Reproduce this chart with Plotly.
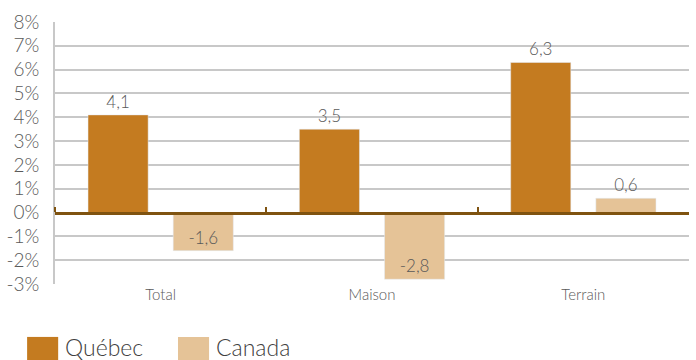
import plotly.graph_objects as go

categories = ["Total", "Maison", "Terrain"]
quebec = [4.1, 3.5, 6.3]
canada = [-1.6, -2.8, 0.6]
series_names = ["Québec", "Canada"]
colors = ["#C47B20", "#E5C397"]
ytick_vals = list(range(-3, 9))
ytick_text = [f"{v}%" for v in ytick_vals]

font = "Lato, 'Open Sans', sans-serif"
grey = "#595959"

fig = go.Figure()
fig.add_trace(go.Bar(
    x=categories, y=quebec, name=series_names[0], marker_color=colors[0],
    text=[f"{v:.1f}".replace(".", ",") for v in quebec], textposition="outside",
    textfont=dict(size=17, color=grey, family=font, weight=300), cliponaxis=False,
    showlegend=False,
))
fig.add_trace(go.Bar(
    x=categories, y=canada, name=series_names[1], marker_color=colors[1],
    text=[f"{v:.1f}".replace(".", ",") for v in canada],
    textposition=["inside" if v < 0 else "outside" for v in canada],
    insidetextanchor="end",
    textfont=dict(size=17, color=grey, family=font, weight=300), cliponaxis=False,
    showlegend=False,
))

# legend drawn as swatches + labels
lx = [-0.044, 0.194]
for i, name in enumerate(series_names):
    fig.add_shape(type="rect", xref="paper", yref="paper",
                  x0=lx[i], x1=lx[i] + 0.049, y0=-0.295, y1=-0.202,
                  fillcolor=colors[i], line_width=0, layer="above")
    fig.add_annotation(text=name, xref="paper", yref="paper", x=lx[i] + 0.056, y=-0.240,
                       xanchor="left", yanchor="middle", showarrow=False,
                       font=dict(size=23, color="#404040", family=font, weight=300))

fig.update_layout(
    width=696, height=360,
    margin=dict(l=55, r=7, t=22, b=76),
    paper_bgcolor="white", plot_bgcolor="white",
    barmode="group", bargap=0.194, bargroupgap=0.294,
    font=dict(family=font, color=grey),
    showlegend=False,
    xaxis=dict(showgrid=False, showline=False, ticks="",
               tickfont=dict(size=15, color=grey, weight=300), range=[-0.5, 2.5]),
    xaxis2=dict(overlaying="x", anchor="free", position=3 / 11, side="top",
                range=[-0.5, 2.5], tickvals=[-0.5, 0.5, 1.5], ticks="outside",
                ticklen=5, tickwidth=2, tickcolor="#7F5310", showticklabels=False,
                showline=True, linecolor="#7F5310", linewidth=2.5, showgrid=False,
                zeroline=False),
    yaxis=dict(range=[-3, 8], tickvals=ytick_vals, ticktext=ytick_text,
               tickfont=dict(size=19, color=grey, weight=300), showgrid=True,
               gridcolor="#C8C8C8", gridwidth=1.5, showline=True, linecolor="#C8C8C8",
               linewidth=1.5, zeroline=False, ticks="", ticklabelstandoff=10),
)
# invisible trace to activate xaxis2
fig.add_trace(go.Scatter(x=[-0.5, 2.5], y=[0, 0], xaxis="x2", mode="lines",
                         line=dict(width=0), hoverinfo="skip", showlegend=False))

fig.write_html("out.html")
